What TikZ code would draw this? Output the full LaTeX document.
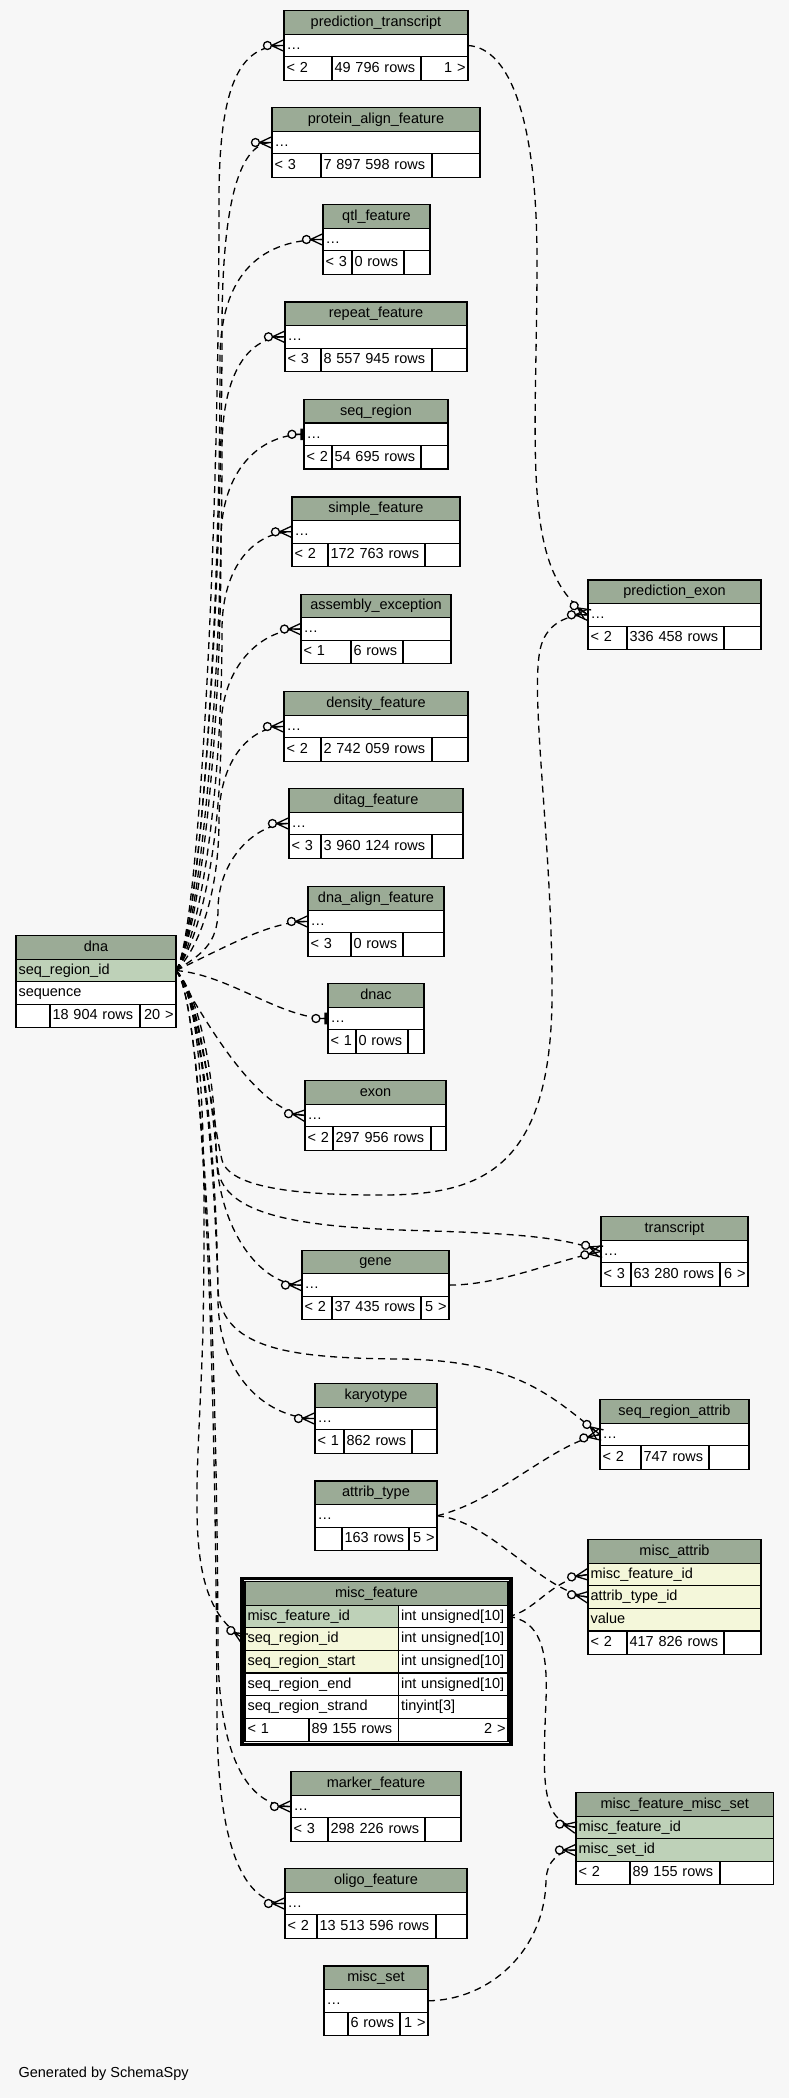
\documentclass[tikz,border=0pt]{standalone}
\usepackage{fontspec}
\setmainfont{Liberation Sans}
\usetikzlibrary{decorations.markings}

\definecolor{bgc}{HTML}{F7F7F7}
\definecolor{headc}{HTML}{9BAB96}
\definecolor{pkc}{HTML}{BED1B8}
\definecolor{fkc}{HTML}{F4F7DA}

% one table with a single "..." row and a three-cell footer
\newcommand{\fktable}[9]{%
  \pgfmathsetmacro\tbw{#3-5}%
  \pgfmathsetmacro\tba{#5-5}%
  \pgfmathsetmacro\tbb{#6-5}%
  \pgfmathsetmacro\tbc{#3-#5-#6-5}%
  \node[hd, minimum width=#3pt] (#1) at (#2) {#4};
  \node[cell, text width=\tbw pt] (#1-r) at (#1.south west) {\ldots};
  \node[ft, text width=\tba pt] (#1-a) at (#1-r.south west) {#7};
  \node[ft, text width=\tbb pt] (#1-b) at (#1-a.north east) {#8};
  \node[ft, text width=\tbc pt, align=right] (#1-c) at (#1-b.north east) {#9};
}

\begin{document}
\begin{tikzpicture}[x=1pt, y=-1pt,
  cell/.style={draw, line width=1.2pt, fill=white, anchor=north west,
               inner xsep=2.5pt, inner ysep=0pt, outer sep=0pt,
               minimum height=22.6pt, text height=10.5pt, text depth=3pt,
               align=left, font=\fontsize{14.5}{17}\selectfont},
  hd/.style={cell, fill=headc, minimum height=23.5pt, align=center},
  ft/.style={cell, minimum height=23.4pt},
  fk/.style={line width=1.3pt, dash pattern=on 7pt off 5pt},
  crowdot/.style={postaction=decorate, decoration={markings, mark=at position -0.05pt with {
      \fill[bgc] (-16.5,0) circle[radius=4pt];
      \draw[solid, line width=1.3pt] (-16.5,0) circle[radius=4pt]
        (-12.5,0) -- (0,0) (-12.5,0) -- (0,5.8) (-12.5,0) -- (0,-5.8);}}},
  teedot/.style={postaction=decorate, decoration={markings, mark=at position -0.05pt with {
      \fill[bgc] (-12,0) circle[radius=4pt];
      \draw[solid, line width=1.3pt] (-12,0) circle[radius=4pt] (-8,0) -- (0,0);
      \draw[solid, line width=2.6pt] (-2.4,-5.8) -- (-2.4,5.8);}}}
]
\fill[bgc] (0,0) rectangle (789,2098);
\useasboundingbox (0,0) rectangle (789,2098);

% tables
\fktable{ptrans}{284,10.7}{184}{prediction\_transcript}{48}{89}{< 2}{49 796 rows}{1 >}
\fktable{paf}{272,107.7}{208}{protein\_align\_feature}{49}{111}{< 3}{7 897 598 rows}{}
\fktable{qtl}{323,204.7}{107}{qtl\_feature}{29}{52}{< 3}{0 rows}{}
\fktable{repeat}{285,302}{182}{repeat\_feature}{36}{111}{< 3}{8 557 945 rows}{}
\fktable{seqreg}{304,399.5}{144}{seq\_region}{28}{89}{< 2}{54 695 rows}{}
\fktable{simple}{292,497}{168}{simple\_feature}{36}{97}{< 2}{172 763 rows}{}
\fktable{asmexc}{301,594.3}{150}{assembly\_exception}{50}{52}{< 1}{6 rows}{}
\fktable{density}{284,691.7}{184}{density\_feature}{37}{111}{< 2}{2 742 059 rows}{}
\fktable{ditag}{289,788.7}{174}{ditag\_feature}{32}{111}{< 3}{3 960 124 rows}{}
\fktable{dnaalign}{308,886.7}{136}{dna\_align\_feature}{43}{52}{< 3}{0 rows}{}
\fktable{dnac}{328,983.7}{96}{dnac}{28}{52}{< 1}{0 rows}{}
\fktable{exon}{305,1080.7}{141}{exon}{28}{98}{< 2}{297 956 rows}{}
\fktable{pexon}{588,580}{173}{prediction\_exon}{39}{97}{< 2}{336 458 rows}{}
\fktable{transcript}{601,1216.7}{147}{transcript}{30}{89}{< 3}{63 280 rows}{6 >}
\fktable{gene}{302,1250.3}{147}{gene}{30}{89}{< 2}{37 435 rows}{5 >}
\fktable{karyo}{315,1383.7}{122}{karyotype}{29}{68}{< 1}{862 rows}{}
\fktable{sra}{600,1399.7}{149}{seq\_region\_attrib}{41}{68}{< 2}{747 rows}{}
\fktable{attrib}{315,1481}{122}{attrib\_type}{27}{67}{}{163 rows}{5 >}
\fktable{marker}{291,1771.7}{170}{marker\_feature}{37}{97}{< 3}{298 226 rows}{}
\fktable{oligo}{285,1868.7}{182}{oligo\_feature}{32}{119}{< 2}{13 513 596 rows}{}
\fktable{mset}{324,1966}{104}{misc\_set}{24}{52}{}{6 rows}{1 >}

% dna
\node[hd, minimum width=160pt] (dna) at (16,935.7) {dna};
\node[cell, fill=pkc, text width=155pt] (dna-sr) at (dna.south west) {seq\_region\_id};
\node[cell, text width=155pt] (dna-sq) at (dna-sr.south west) {sequence};
\node[ft, text width=29pt] (dna-a) at (dna-sq.south west) {};
\node[ft, text width=85pt] (dna-b) at (dna-a.north east) {18 904 rows};
\node[ft, text width=31pt, align=right] (dna-c) at (dna-b.north east) {20 >};

% misc_attrib
\node[hd, minimum width=173pt] (mattr) at (588,1539.7) {misc\_attrib};
\node[cell, fill=fkc, text width=168pt] (mattr-mf) at (mattr.south west) {misc\_feature\_id};
\node[cell, fill=fkc, text width=168pt] (mattr-at) at (mattr-mf.south west) {attrib\_type\_id};
\node[cell, fill=fkc, text width=168pt] (mattr-v) at (mattr-at.south west) {value};
\node[ft, text width=34pt] (mattr-a) at (mattr-v.south west) {< 2};
\node[ft, text width=92pt] (mattr-b) at (mattr-a.north east) {417 826 rows};
\node[ft, text width=32pt] (mattr-c) at (mattr-b.north east) {};

% misc_feature
\node[hd, minimum width=263pt] (mfeat) at (245,1581.7) {misc\_feature};
\node[cell, fill=pkc, text width=148.6pt] (mfeat-id) at (mfeat.south west) {misc\_feature\_id};
\node[cell, text width=104.4pt] (mfeat-idt) at (mfeat-id.north east) {int unsigned[10]};
\node[cell, fill=fkc, text width=148.6pt] (mfeat-sr) at (mfeat-id.south west) {seq\_region\_id};
\node[cell, text width=104.4pt] (mfeat-srt) at (mfeat-sr.north east) {int unsigned[10]};
\node[cell, fill=fkc, text width=148.6pt] (mfeat-ss) at (mfeat-sr.south west) {seq\_region\_start};
\node[cell, text width=104.4pt] (mfeat-sst) at (mfeat-ss.north east) {int unsigned[10]};
\node[cell, text width=148.6pt] (mfeat-se) at (mfeat-ss.south west) {seq\_region\_end};
\node[cell, text width=104.4pt] (mfeat-set) at (mfeat-se.north east) {int unsigned[10]};
\node[cell, text width=148.6pt] (mfeat-st) at (mfeat-se.south west) {seq\_region\_strand};
\node[cell, text width=104.4pt] (mfeat-stt) at (mfeat-st.north east) {tinyint[3]};
\node[ft, text width=59pt] (mfeat-a) at (mfeat-st.south west) {< 1};
\node[ft, text width=84.6pt] (mfeat-b) at (mfeat-a.north east) {89 155 rows};
\node[ft, text width=104.4pt, align=right] (mfeat-c) at (mfeat-b.north east) {2 >};
\draw[line width=3.2pt] ([shift={(-3,-3.2)}]mfeat.north west) rectangle ([shift={(3,3)}]mfeat-c.south east);

% misc_feature_misc_set
\node[hd, minimum width=197.5pt] (mfms) at (576,1792.7) {misc\_feature\_misc\_set};
\node[cell, fill=pkc, text width=192.5pt] (mfms-mf) at (mfms.south west) {misc\_feature\_id};
\node[cell, fill=pkc, text width=192.5pt] (mfms-ms) at (mfms-mf.south west) {misc\_set\_id};
\node[ft, text width=49pt] (mfms-a) at (mfms-ms.south west) {< 2};
\node[ft, text width=85pt] (mfms-b) at (mfms-a.north east) {89 155 rows};
\node[ft, text width=48.5pt] (mfms-c) at (mfms-b.north east) {};

\node[anchor=west, font=\fontsize{14.5}{17}\selectfont] (credit) at (15,2074) {Generated by SchemaSpy};

% relationships from dna
\draw[fk, crowdot] (dna-sr.east) .. controls (198,940) and (219,550) .. (219,200) .. controls (219,75) and (244,45.5) .. (ptrans-r.west);
\draw[fk, crowdot] (dna-sr.east) .. controls (198,940) and (222,620) .. (222,330) .. controls (222,200) and (240,142.5) .. (paf-r.west);
\draw[fk, crowdot] (dna-sr.east) .. controls (198,940) and (220,640) .. (220,360) .. controls (220,270) and (265,239.5) .. (qtl-r.west);
\draw[fk, crowdot] (dna-sr.east) .. controls (198,940) and (222,700) .. (222,450) .. controls (222,370) and (250,336.8) .. (repeat-r.west);
\draw[fk, teedot] (dna-sr.east) .. controls (198,940) and (221,750) .. (221,540) .. controls (221,470) and (260,434.3) .. (seqreg-r.west);
\draw[fk, crowdot] (dna-sr.east) .. controls (198,945) and (222,800) .. (222,630) .. controls (222,565) and (255,531.8) .. (simple-r.west);
\draw[fk, crowdot] (dna-sr.east) .. controls (198,945) and (221,850) .. (221,730) .. controls (221,665) and (262,629) .. (asmexc-r.west);
\draw[fk, crowdot] (dna-sr.east) .. controls (198,950) and (219,895) .. (219,820) .. controls (219,760) and (250,726.5) .. (density-r.west);
\draw[fk, crowdot] (dna-sr.east) .. controls (200,955) and (218,945) .. (218,910) .. controls (218,860) and (255,823.5) .. (ditag-r.west);
\draw[fk, crowdot] (dna-sr.east) .. controls (230,945) and (270,921.5) .. (dnaalign-r.west);
\draw[fk, teedot] (dna-sr.east) .. controls (230,975) and (280,1018.5) .. (dnac-r.west);
\draw[fk, crowdot] (dna-sr.east) .. controls (205,1020) and (255,1110) .. (exon-r.west);
\draw[fk, crowdot] (dna-sr.east) .. controls (200,995) and (215,1080) .. (216,1150) .. controls (218,1230) and (260,1285) .. (gene-r.west);
\draw[fk, crowdot] (dna-sr.east) .. controls (200,995) and (217,1150) .. (218,1300) .. controls (219,1380) and (270,1418.5) .. (karyo-r.west);
\draw[fk, crowdot] (dna-sr.east) .. controls (200,995) and (217,1300) .. (218,1650) .. controls (219,1770) and (255,1806.5) .. (marker-r.west);
\draw[fk, crowdot] (dna-sr.east) .. controls (205,1000) and (216,1400) .. (217,1720) .. controls (218,1850) and (245,1903.5) .. (oligo-r.west);
\draw[fk, crowdot] (dna-sr.east) .. controls (200,1000) and (207,1100) .. (203,1330) .. controls (198,1500) and (180,1600) .. (mfeat-sr.west);
\draw[fk, crowdot] (dna-sr.east) .. controls (200,995) and (212,1100) .. (218,1170) .. controls (225,1215) and (300,1226) .. (400,1230) .. controls (500,1233) and (560,1235) .. (transcript-r.west);
\draw[fk, crowdot] (dna-sr.east) .. controls (200,995) and (214,1150) .. (218,1290) .. controls (222,1352) and (300,1358) .. (400,1359) .. controls (520,1360) and (555,1400) .. (sra-r.west);
\draw[fk, crowdot] (dna-sr.east) .. controls (200,995) and (212,1120) .. (222,1160) .. controls (230,1192) and (320,1195) .. (382,1195) .. controls (480,1195) and (550,1170) .. (552,1000) .. controls (553,850) and (530,700) .. (540,650) .. controls (545,625) and (565,614.8) .. (pexon-r.west);

% other relationships
\draw[fk, crowdot] (ptrans-r.east) .. controls (510,48) and (537,120) .. (537,260) .. controls (537,450) and (520,570) .. (pexon-r.west);
\draw[fk, crowdot] (gene-r.east) .. controls (500,1285) and (550,1262) .. (transcript-r.west);
\draw[fk, crowdot] (attrib-r.east) .. controls (500,1500) and (550,1445) .. (sra-r.west);
\draw[fk, crowdot] (attrib-r.east) .. controls (490,1520) and (540,1590) .. (mattr-at.west);
\draw[fk, crowdot] (mfeat-idt.east) .. controls (535,1612) and (550,1580) .. (mattr-mf.west);
\draw[fk, crowdot] (mfeat-idt.east) .. controls (540,1620) and (548,1650) .. (546,1700) .. controls (543,1780) and (540,1820) .. (mfms-mf.west);
\draw[fk, crowdot] (mset-r.east) .. controls (490,2000) and (545,1950) .. (546,1880) .. controls (547,1860) and (560,1850) .. (mfms-ms.west);
\end{tikzpicture}
\end{document}
